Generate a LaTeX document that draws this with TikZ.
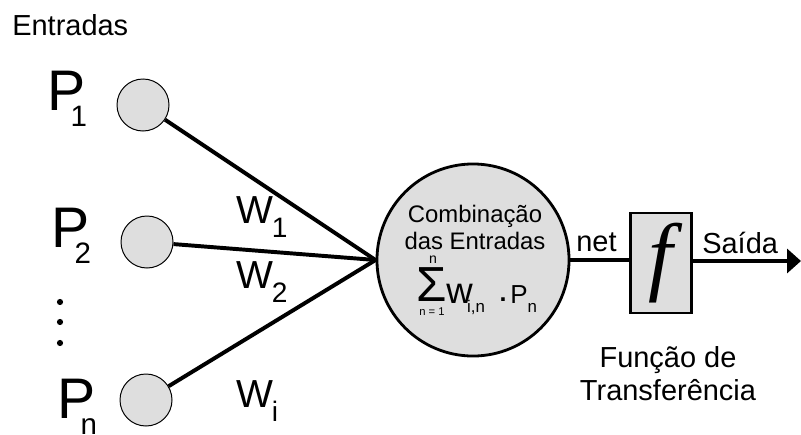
\documentclass[tikz,border=0pt]{standalone}
\usepackage{fontspec}
\setmainfont{Liberation Sans}
\newfontfamily\serifafont{Liberation Serif}
\usepackage{tikz}
\usetikzlibrary{arrows.meta}
\usetikzlibrary{positioning}

\definecolor{cinza}{RGB}{222,222,222}

% P com indice abaixo, W com indice abaixo
\newcommand{\entrada}[1]{P\kern-11pt\raisebox{-11.4pt}{\fontsize{21}{21}\selectfont #1}}
\newcommand{\peso}[1]{W\kern-1pt\raisebox{-10pt}{\fontsize{20}{20}\selectfont #1}}

\tikzstyle{neuron_style}=[
	x=0.025cm, y=-0.025cm,
	input_neuron/.style={circle,fill=cinza,draw,line width=0.7pt,minimum size=1.3cm,inner sep=0pt},
	soma/.style={circle,fill=cinza,draw,line width=2pt,minimum size=4.8cm,inner sep=0pt},
	funcao/.style={rectangle,fill=cinza,draw,line width=2pt,minimum width=1.525cm,minimum height=2.5cm,inner sep=0pt,font=\serifafont\itshape\fontsize{62}{62}\selectfont},
	texto/.style={inner sep=0pt,font=\fontsize{20.6}{23.5}\selectfont},
	p_label/.style={inner sep=0pt,anchor=base west,font=\fontsize{40.7}{44}\selectfont},
	w_label/.style={inner sep=0pt,anchor=base west,font=\fontsize{27.8}{30}\selectfont},
	thick_edge/.style={line width=2.8pt}
]

\begin{document}
\begin{tikzpicture}[neuron_style]
	\useasboundingbox (0,0) rectangle (801,434);
	
	\node[texto,anchor=base west] (entradas) at (12,35) {Entradas};
	
	\node[input_neuron]    (p1) at (143,105) {};
	\node[input_neuron]    (p2) at (147,242) {};
	\node[input_neuron]    (pn) at (146,400) {};
	
	\node[p_label]     (lp1) at (47.6,110) {\entrada{1}};
	\node[p_label]     (lp2) at (51.6,247) {\entrada{2}};
	\node[p_label]     (lpn) at (57.6,418) {\entrada{n}};
	
	\foreach \y in {302,322,343}
		\fill (60,\y) circle (2.2pt);
	
	\node[soma]      (soma) at (473,260) {};
	\node[funcao]    (f) at (661,263) {f};
	
	% texto dentro da soma
	\node[texto,font=\fontsize{17}{19.2}\selectfont,align=center,anchor=north] (comb) at (475,205) {Combinação\\das Entradas};
	\node[inner sep=0pt,anchor=base,font=\fontsize{35}{35}\selectfont] (sigma) at (432,301) {Σ};
	\node[inner sep=0pt,anchor=base,font=\fontsize{10}{10}\selectfont] (sup) at (433,263) {n};
	\node[inner sep=0pt,anchor=base,font=\fontsize{8}{8}\selectfont] (inf) at (432,315) {n = 1};
	\node[inner sep=0pt,anchor=base west,font=\fontsize{26}{26}\selectfont] (w) at (446,303) {w\kern-4pt\raisebox{-7pt}{\fontsize{12}{12}\selectfont i,n}};
	\node[inner sep=0pt,anchor=base,font=\fontsize{17.8}{17.8}\selectfont] (ponto) at (503,301) {\textbf{.}};
	\node[inner sep=0pt,anchor=base west,font=\fontsize{18.5}{18.5}\selectfont] (pnsoma) at (510,303) {P\raisebox{-7pt}{\fontsize{12}{12}\selectfont n}};
	
	\node[w_label]   (w1) at (236,223) {\peso{1}};
	\node[w_label]   (w2) at (236,288) {\peso{2}};
	\node[w_label]   (wi) at (236,407) {\peso{i}};
	
	\path (p1) edge [thick_edge] (soma.west)
	(p2) edge [thick_edge] (soma.west)
	(pn) edge [thick_edge] (soma.west);
	
	\draw[thick_edge] (soma.east) -- (soma.east -| f.west);
	
	\coordinate (saida) at (801,261);
	\draw[thick_edge,-{Triangle[length=0.35cm,width=0.6cm]}] (f.east |- saida) -- (saida);
	
	\node[texto,anchor=base west] (net) at (576,251) {net};
	\node[texto,anchor=base west] (lsaida) at (702,253) {Saída};
	\node[texto,align=center,anchor=north] (transf) at (668,346) {Função de\\Transferência};
	
\end{tikzpicture}
\end{document}
